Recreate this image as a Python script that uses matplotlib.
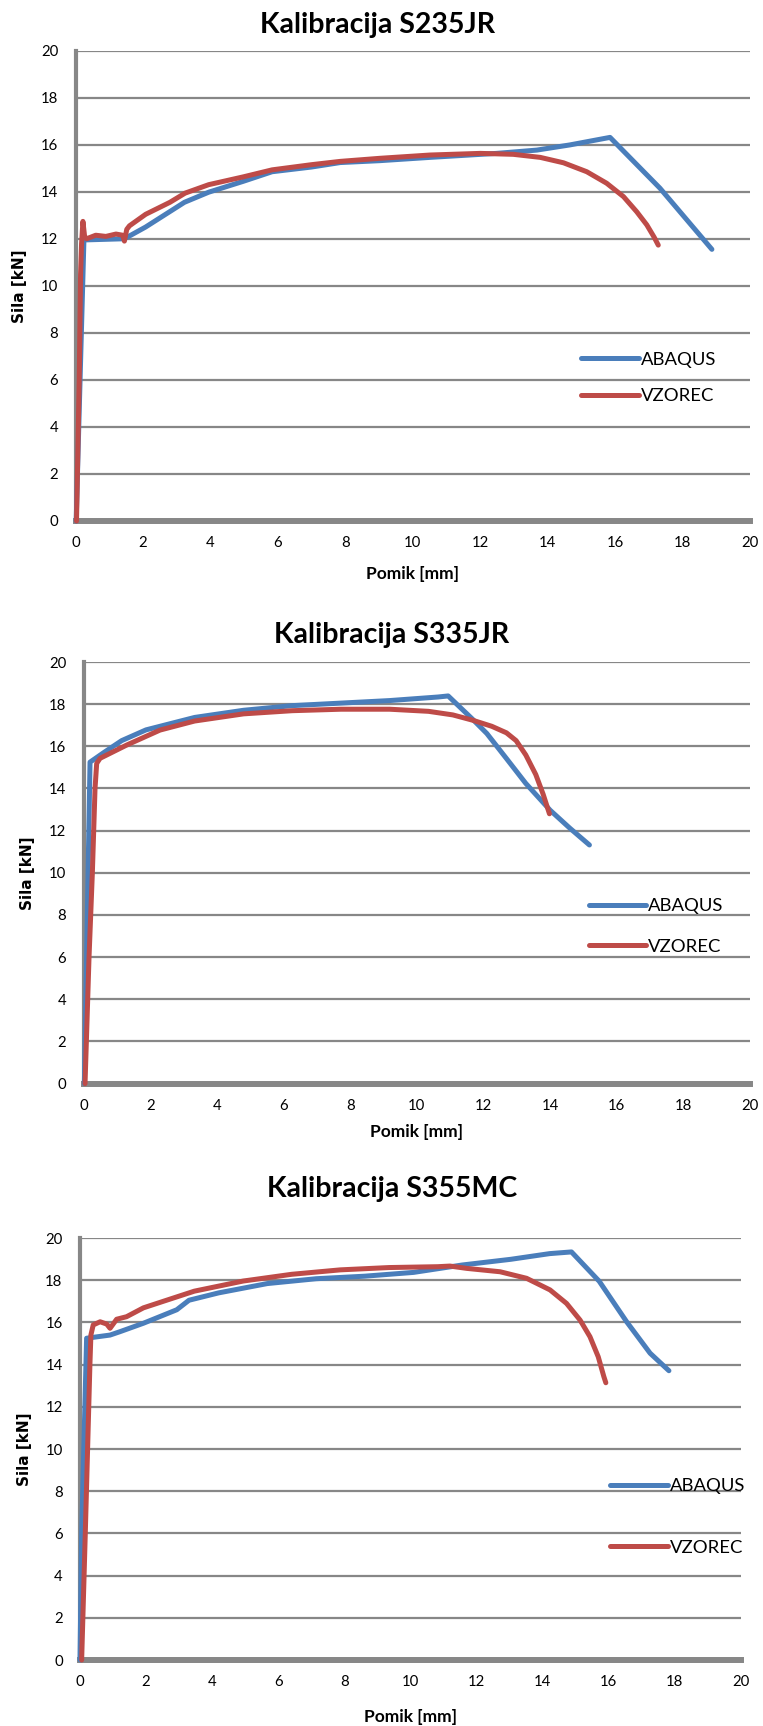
import matplotlib
matplotlib.use('Agg')
import matplotlib.pyplot as plt

plt.rcParams['font.family'] = ['Lato', 'DejaVu Sans']

W, H = 763, 1726
BLUE = '#4a7ebb'
RED = '#be4b48'
GRAY = '#878787'

TITLES = ['Kalibracija S235JR', 'Kalibracija S335JR', 'Kalibracija S355MC']
SERIES = ['ABAQUS', 'VZOREC']
TICKS = list(range(0, 21, 2))

# S235JR
x_abaqus_235 = [0.02, 0.25, 1.45, 2.08, 3.23, 3.95, 4.97, 5.83, 7.0, 7.85, 9.02, 10.51, 12.49, 13.68, 14.66,
                15.85, 17.33, 18.87]
y_abaqus_235 = [0, 11.95, 12.0, 12.5, 13.55, 13.98, 14.44, 14.85, 15.05, 15.24, 15.32, 15.46, 15.63, 15.77, 15.99,
                16.31, 14.15, 11.55]
x_vzorec_235 = [0.03, 0.11, 0.15, 0.18, 0.22, 0.27, 0.33, 0.6, 0.9, 1.2, 1.4, 1.45, 1.52, 1.6, 2.08, 2.8,
                3.25, 3.95, 4.97, 5.83, 7.0, 7.85, 9.02, 10.51, 12.0, 12.98, 13.78, 14.47, 15.16, 15.75,
                16.25, 16.64, 16.94, 17.16, 17.28]
y_vzorec_235 = [0, 6.0, 10.5, 11.8, 12.74, 12.1, 12.0, 12.15, 12.1, 12.2, 12.15, 11.9, 12.4, 12.55, 13.04, 13.55,
                13.94, 14.3, 14.63, 14.93, 15.15, 15.29, 15.42, 15.56, 15.63, 15.59, 15.46, 15.23, 14.85, 14.36,
                13.79, 13.15, 12.59, 12.06, 11.73]

# S335JR
x_abaqus_335 = [0.02, 0.19, 0.6, 1.14, 1.87, 3.33, 4.8, 6.26, 7.72, 9.18, 10.64, 10.94, 11.67, 12.1, 12.69,
                13.27, 14.0, 14.59, 15.18]
y_abaqus_335 = [0, 15.25, 15.7, 16.27, 16.78, 17.37, 17.71, 17.93, 18.05, 18.17, 18.34, 18.39, 17.29, 16.61, 15.42,
                14.24, 12.97, 12.12, 11.32]
x_vzorec_335 = [0.04, 0.16, 0.26, 0.34, 0.39, 0.49, 1.29, 2.29, 3.33, 4.8, 6.26, 7.72, 9.18, 10.35, 11.08, 11.67,
                12.25, 12.69, 12.98, 13.27, 13.57, 13.79, 13.98]
y_vzorec_335 = [0, 6.0, 10.0, 14.0, 15.19, 15.43, 16.06, 16.77, 17.2, 17.54, 17.69, 17.76, 17.76, 17.66, 17.49, 17.24,
                16.95, 16.64, 16.27, 15.59, 14.66, 13.73, 12.8]

# S355MC
x_abaqus_355 = [0.0, 0.05, 0.2, 0.91, 1.21, 1.92, 2.93, 3.3, 4.2, 5.67, 7.15, 8.62, 10.1, 11.57, 13.04, 14.22,
                14.88, 15.72, 16.55, 17.26, 17.83]
y_abaqus_355 = [0, 6.0, 15.25, 15.4, 15.56, 15.96, 16.6, 17.05, 17.4, 17.84, 18.07, 18.19, 18.37, 18.72, 18.99, 19.26,
                19.34, 17.95, 16.03, 14.54, 13.71]
x_vzorec_355 = [0.05, 0.16, 0.23, 0.3, 0.33, 0.4, 0.61, 0.81, 0.91, 1.11, 1.41, 1.92, 2.62, 3.46, 4.94, 6.41, 7.88,
                9.36, 10.83, 11.2, 11.71, 12.72, 13.52, 14.23, 14.73, 15.14, 15.44, 15.69, 15.86, 15.92]
y_vzorec_355 = [0, 6.0, 10.0, 14.0, 15.4, 15.88, 16.03, 15.92, 15.72, 16.15, 16.27, 16.69, 17.05, 17.48, 17.96, 18.28,
                18.49, 18.6, 18.64, 18.67, 18.56, 18.4, 18.09, 17.54, 16.9, 16.11, 15.32, 14.37, 13.43, 13.14]

curves = [
    (x_abaqus_235, y_abaqus_235, x_vzorec_235, y_vzorec_235),
    (x_abaqus_335, y_abaqus_335, x_vzorec_335, y_vzorec_335),
    (x_abaqus_355, y_abaqus_355, x_vzorec_355, y_vzorec_355),
]

# postavitev v pikslih: okvir osi (levo, desno, zgoraj, spodaj), naslov, oznake osi, legenda
layout = [
    dict(box=(75.5, 750, 50.6, 521), title=(377, 25), xlab=(413, 574), ylab=(19.5, 286),
         leg=(0.750, 0.304), spacing=1.1),
    dict(box=(83.7, 750, 662, 1083.6), title=(392, 635), xlab=(416, 1132), ylab=(27.7, 873),
         leg=(0.758, 0.373), spacing=1.34),
    dict(box=(80, 740.6, 1238, 1660), title=(392, 1189), xlab=(410, 1717), ylab=(24.3, 1449),
         leg=(0.803, 0.339), spacing=2.48),
]

fig = plt.figure(figsize=(W / 100, H / 100), dpi=100)

for title, (xa, ya, xv, yv), lay in zip(TITLES, curves, layout):
    l, r, t, b = lay['box']
    ax = fig.add_axes([l / W, 1 - b / H, (r - l) / W, (b - t) / H])
    ax.plot(xa, ya, color=BLUE, lw=3.6, solid_capstyle='round', solid_joinstyle='round',
            label=SERIES[0], zorder=3, clip_on=False)
    ax.plot(xv, yv, color=RED, lw=3.6, solid_capstyle='round', solid_joinstyle='round',
            label=SERIES[1], zorder=3, clip_on=False)
    ax.set_xlim(0, 20)
    ax.set_ylim(0, 20)
    ax.set_xticks(TICKS)
    ax.set_yticks(TICKS)
    ax.grid(axis='y', color=GRAY, lw=1.6)
    ax.set_axisbelow(True)
    ax.spines['top'].set_visible(False)
    ax.spines['right'].set_visible(False)
    ax.spines['left'].set_color(GRAY)
    ax.spines['left'].set_linewidth(3)
    ax.spines['bottom'].set_color(GRAY)
    ax.spines['bottom'].set_linewidth(4.3)
    ax.tick_params(axis='both', length=0, labelsize=10.7, colors='black')
    ax.tick_params(axis='y', pad=12.5)
    ax.tick_params(axis='x', pad=11)
    ax.legend(loc='center left', bbox_to_anchor=lay['leg'], frameon=False, fontsize=13.3,
              handlelength=3.1, handletextpad=0.1, labelspacing=lay['spacing'],
              borderpad=0, borderaxespad=0)

    fig.text(lay['title'][0] / W, 1 - lay['title'][1] / H, title, ha='center', va='center',
             fontsize=20.5, fontweight='bold')
    fig.text(lay['xlab'][0] / W, 1 - lay['xlab'][1] / H, 'Pomik [mm]', ha='center', va='center',
             fontsize=12.5, fontweight='bold')
    fig.text(lay['ylab'][0] / W, 1 - lay['ylab'][1] / H, 'Sila [kN]', ha='center', va='center',
             rotation=90, fontsize=11, fontweight='bold', family='DejaVu Sans')

fig.savefig('out.png', dpi=100)
